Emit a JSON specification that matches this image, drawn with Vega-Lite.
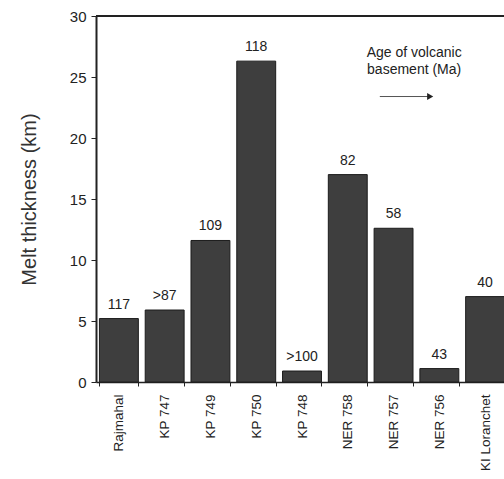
{
  "$schema": "https://vega.github.io/schema/vega-lite/v6.json",
  "autosize": {"type": "none"},
  "padding": {"left": 96, "top": 16, "right": 0, "bottom": 97},
  "width": 408,
  "height": 366,
  "background": "white",
  "config": {
    "view": {"stroke": null},
    "font": "Liberation Sans",
    "text": {"font": "Liberation Sans"}
  },
  "datasets": {
    "bars": [
      {"site": "Rajmahal", "melt": 5.2, "age": "117"},
      {"site": "KP 747", "melt": 5.9, "age": ">87"},
      {"site": "KP 749", "melt": 11.6, "age": "109"},
      {"site": "KP 750", "melt": 26.3, "age": "118"},
      {"site": "KP 748", "melt": 0.9, "age": ">100"},
      {"site": "NER 758", "melt": 17.0, "age": "82"},
      {"site": "NER 757", "melt": 12.6, "age": "58"},
      {"site": "NER 756", "melt": 1.1, "age": "43"},
      {"site": "KI Loranchet", "melt": 7.0, "age": "40"}
    ],
    "note": [
      {"pos": 6.95, "y": 27.0, "line": "Age of volcanic"},
      {"pos": 6.95, "y": 25.55, "line": "basement (Ma)"}
    ],
    "arrow": [
      {"x1": 6.2, "x2": 7.3, "y": 23.4}
    ]
  },
  "layer": [
    {
      "data": {"name": "bars"},
      "layer": [
        {
          "mark": {"type": "bar", "color": "#3e3e3e", "stroke": "#1c1c1c", "strokeWidth": 1},
          "encoding": {
            "x": {
              "field": "site", "type": "nominal", "sort": null,
              "scale": {"range": [0, 412], "paddingInner": 0.15, "paddingOuter": 0.075},
              "axis": {
                "title": null, "labelAngle": 270, "labelAlign": "right", "labelBaseline": "middle",
                "labelFontSize": 13.5, "labelColor": "#222", "labelPadding": 8,
                "tickBand": "extent", "tickSize": 4, "tickColor": "#222", "domainColor": "#222", "domainWidth": 1.5,
                "labelOverlap": false, "labelLimit": 200
              }
            },
            "y": {
              "field": "melt", "type": "quantitative",
              "scale": {"domain": [0, 30], "nice": false},
              "axis": {
                "title": "Melt thickness (km)", "titleFontSize": 20, "titleFontWeight": "normal", "titleColor": "#333",
                "titlePadding": 30, "values": [0, 5, 10, 15, 20, 25, 30], "grid": false,
                "labelFontSize": 15, "labelColor": "#222", "tickSize": 5, "tickColor": "#222",
                "domainColor": "#222", "domainWidth": 2, "labelPadding": 5
              }
            }
          }
        },
        {
          "mark": {"type": "text", "baseline": "bottom", "dy": -7, "fontSize": 14, "color": "#222"},
          "encoding": {
            "x": {"field": "site", "type": "nominal", "sort": null},
            "y": {"field": "melt", "type": "quantitative"},
            "text": {"field": "age"}
          }
        },
        {
          "mark": {"type": "rule", "color": "#222", "strokeWidth": 2},
          "encoding": {"y": {"datum": 30}}
        }
      ]
    },
    {
      "data": {"name": "note"},
      "mark": {"type": "text", "fontSize": 14, "color": "#222", "align": "center", "baseline": "middle"},
      "encoding": {
        "x": {"field": "pos", "type": "quantitative", "scale": {"domain": [0, 9], "range": [0, 412]}, "axis": null},
        "y": {"field": "y", "type": "quantitative"},
        "text": {"field": "line"}
      }
    },
    {
      "data": {"name": "arrow"},
      "layer": [
        {
          "mark": {"type": "rule", "color": "#555", "strokeWidth": 1},
          "encoding": {
            "x": {"field": "x1", "type": "quantitative", "scale": {"domain": [0, 9], "range": [0, 412]}, "axis": null},
            "x2": {"field": "x2"},
            "y": {"field": "y", "type": "quantitative"}
          }
        },
        {
          "mark": {"type": "point", "shape": "triangle-right", "filled": true, "color": "#222", "size": 50, "opacity": 1},
          "encoding": {
            "x": {"field": "x2", "type": "quantitative", "scale": {"domain": [0, 9], "range": [0, 412]}, "axis": null},
            "y": {"field": "y", "type": "quantitative"}
          }
        }
      ]
    }
  ],
  "resolve": {"scale": {"x": "independent"}}
}
